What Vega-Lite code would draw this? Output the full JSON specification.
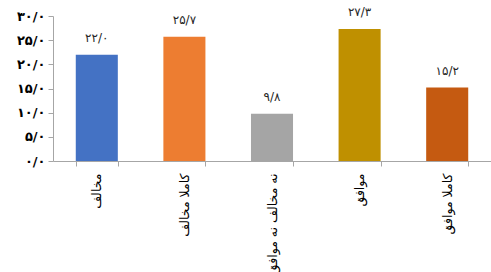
{
  "$schema": "https://vega.github.io/schema/vega-lite/v6.json",
  "autosize": "none",
  "width": 438,
  "height": 145,
  "padding": {"left": 53, "top": 16, "right": 0, "bottom": 111},
  "background": "white",
  "config": {"view": {"stroke": null}, "font": "DejaVu Sans"},
  "data": {"values": [
    {"cat": "مخالف", "value": 22.0, "label": "۲۲/۰", "color": "c1"},
    {"cat": "کاملا مخالف", "value": 25.7, "label": "۲۵/۷", "color": "c2"},
    {"cat": "نه مخالف نه موافق", "value": 9.8, "label": "۹/۸", "color": "c3"},
    {"cat": "موافق", "value": 27.3, "label": "۲۷/۳", "color": "c4"},
    {"cat": "کاملا موافق", "value": 15.2, "label": "۱۵/۲", "color": "c5"}
  ]},
  "encoding": {
    "x": {
      "field": "cat", "type": "nominal", "sort": null,
      "scale": {"paddingInner": 0.52, "paddingOuter": 0.26},
      "axis": {
        "title": null, "labelAngle": -90, "labelFontSize": 12.5, "labelColor": "#000000",
        "labelPadding": 7, "tickBand": "extent", "domainColor": "#A6A6A6", "tickColor": "#A6A6A6",
        "tickSize": 5, "labelLimit": 200
      }
    },
    "y": {
      "field": "value", "type": "quantitative",
      "scale": {"domain": [0, 30]},
      "axis": {
        "title": null, "grid": false, "values": [0, 5, 10, 15, 20, 25, 30],
        "labelExpr": "replace(replace(replace(replace(replace(replace(format(datum.value,'.1f'),'.','/'),regexp('0','g'),'۰'),regexp('1','g'),'۱'),regexp('2','g'),'۲'),regexp('3','g'),'۳'),regexp('5','g'),'۵')",
        "labelFontSize": 13, "labelFontWeight": "bold", "labelColor": "#000000", "labelPadding": 3,
        "domainColor": "#A6A6A6", "tickColor": "#A6A6A6", "tickSize": 5
      }
    }
  },
  "layer": [
    {
      "mark": {"type": "bar"},
      "encoding": {
        "color": {
          "field": "color", "type": "nominal", "legend": null,
          "scale": {"domain": ["c1", "c2", "c3", "c4", "c5"], "range": ["#4472C4", "#ED7D31", "#A5A5A5", "#BF9000", "#C55A11"]}
        }
      }
    },
    {
      "mark": {"type": "text", "baseline": "bottom", "dy": -10, "fontSize": 12, "color": "#262626"},
      "encoding": {"text": {"field": "label"}}
    }
  ]
}
